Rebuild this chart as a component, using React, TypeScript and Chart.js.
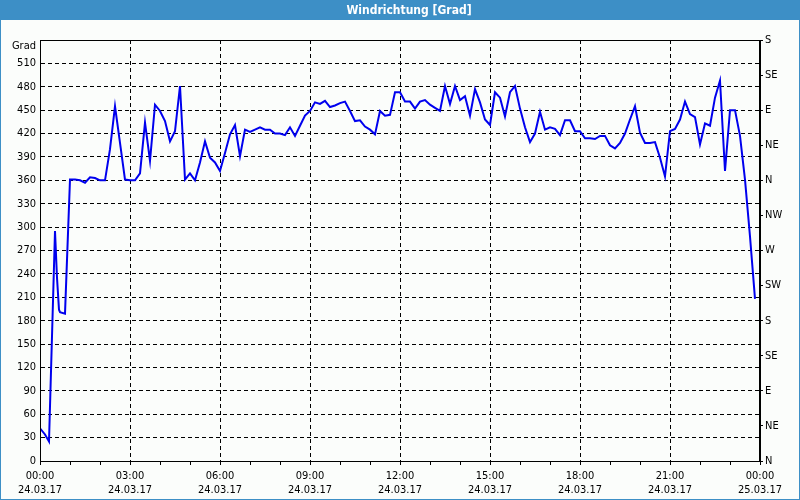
import { useEffect, useRef } from 'react';
import { Chart, registerables } from 'chart.js';

Chart.register(...registerables);

const TITLE = 'Windrichtung [Grad]';
const LEFT_UNIT = 'Grad';
const COMPASS = ['N', 'NE', 'E', 'SE', 'S', 'SW', 'W', 'NW', 'N', 'NE', 'E', 'SE', 'S'];
const HOUR_LABELS = ['00:00', '03:00', '06:00', '09:00', '12:00', '15:00', '18:00', '21:00', '00:00'];
const DATE_LABELS = ['24.03.17', '24.03.17', '24.03.17', '24.03.17', '24.03.17', '24.03.17', '24.03.17', '24.03.17', '25.03.17'];

// minutes since 24.03.17 00:00
const TIMES = [
  0, 10, 18, 30, 34, 38, 40, 50, 60, 70, 80, 90, 100, 110, 120, 130, 140, 150, 160, 170,
  180, 190, 200, 210, 220, 230, 240, 250, 260, 270, 280, 290, 300, 310, 320, 330, 340, 350, 360, 370,
  380, 390, 400, 410, 420, 430, 440, 450, 460, 470, 480, 490, 500, 510, 520, 530, 540, 550, 560, 570,
  580, 590, 600, 610, 620, 630, 640, 650, 660, 670, 680, 690, 700, 710, 720, 730, 740, 750, 760, 770,
  780, 790, 800, 810, 820, 830, 840, 850, 860, 870, 880, 890, 900, 910, 920, 930, 940, 950, 960, 970,
  980, 990, 1000, 1010, 1020, 1030, 1040, 1050, 1060, 1070, 1080, 1090, 1100, 1110, 1120, 1130, 1140, 1150, 1160, 1170,
  1180, 1190, 1200, 1210, 1220, 1230, 1240, 1250, 1260, 1270, 1280, 1290, 1300, 1310, 1320, 1330, 1340, 1350, 1360, 1370,
  1380, 1390, 1400, 1410, 1420, 1430,
];

// wind direction in degrees
const VALUES = [
  42, 34, 25, 295, 235, 194, 191, 189, 361, 361, 360, 357, 364, 363, 360, 360, 400, 455, 408, 361,
  360, 360, 369, 434, 385, 457, 449, 436, 410, 423, 481, 361, 369, 360, 383, 410, 389, 383, 372, 395,
  419, 431, 391, 425, 422, 425, 428, 425, 425, 420, 420, 418, 428, 417, 430, 443, 449, 460, 458, 462,
  454, 456, 459, 461, 449, 436, 437, 429, 425, 419, 449, 443, 444, 473, 473, 461, 461, 452, 461, 463,
  457, 453, 449, 481, 458, 481, 463, 468, 443, 477, 460, 438, 431, 473, 466, 442, 473, 481, 452, 428,
  409, 420, 448, 425, 428, 426, 418, 437, 437, 423, 423, 414, 414, 413, 417, 417, 405, 401, 408, 420,
  438, 455, 421, 408, 408, 409, 389, 365, 423, 426, 438, 461, 445, 441, 406, 433, 430, 466, 488, 372,
  450, 450, 417, 361, 288, 208,
];

const FONT_FAMILY = '"DejaVu Sans Condensed", "DejaVu Sans", sans-serif';
const BAR_BLUE = '#3d8fc6';

const framePlugin = {
  id: 'frame',
  beforeDraw(chart: any) {
    const { ctx, width, height } = chart;
    ctx.save();
    ctx.fillStyle = '#fbfdfb';
    ctx.fillRect(0, 0, width, height);
    ctx.fillStyle = BAR_BLUE;
    ctx.fillRect(0, 0, width, 20);
    ctx.strokeStyle = BAR_BLUE;
    ctx.lineWidth = 1;
    ctx.strokeRect(0.5, 0.5, width - 1, height - 1);
    ctx.fillStyle = '#ffffff';
    ctx.font = 'bold 12px ' + FONT_FAMILY;
    ctx.textAlign = 'center';
    ctx.textBaseline = 'middle';
    ctx.fillText(TITLE, 409, 10.5);
    ctx.restore();
  },
  afterDraw(chart: any) {
    const { ctx, chartArea } = chart;
    ctx.save();
    ctx.strokeStyle = '#000';
    ctx.lineWidth = 1;
    ctx.setLineDash([]);
    ctx.strokeRect(
      Math.round(chartArea.left) + 0.5,
      Math.round(chartArea.top) + 0.5,
      Math.round(chartArea.right - chartArea.left) - 1,
      Math.round(chartArea.bottom - chartArea.top)
    );
    // unit label above the left axis
    ctx.fillStyle = '#000';
    ctx.font = '11px ' + FONT_FAMILY;
    ctx.textAlign = 'right';
    ctx.textBaseline = 'middle';
    ctx.fillText(LEFT_UNIT, chartArea.left - 4, chartArea.top + 6);
    ctx.restore();
  },
};

export default function App() {
  const ref = useRef<HTMLCanvasElement | null>(null);

  useEffect(() => {
    const canvas = ref.current;
    if (!canvas) return;
    const font = { family: FONT_FAMILY, size: 11 };
    const chart = new Chart(canvas, {
      type: 'line',
      data: {
        datasets: [
          {
            data: TIMES.map((t, i) => ({ x: t, y: VALUES[i] })),
            borderColor: '#0000ee',
            borderWidth: 2,
            pointRadius: 0,
            tension: 0,
            fill: false,
          },
        ],
      },
      options: {
        animation: false,
        responsive: false,
        devicePixelRatio: 1,
        layout: { padding: { top: 40, left: 0, right: 0, bottom: 0 } },
        plugins: { legend: { display: false }, tooltip: { enabled: false }, title: { display: false } },
        scales: {
          x: {
            type: 'linear',
            min: 0,
            max: 1440,
            afterBuildTicks: (s: any) => {
              const t = [];
              for (let v = 0; v <= 1440; v += 60) t.push({ value: v });
              s.ticks = t;
            },
            afterFit: (s: any) => {
              s.height = 39;
            },
            ticks: {
              autoSkip: false,
              maxRotation: 0,
              padding: 4,
              color: '#000',
              font: { ...font, lineHeight: 1.27 },
              callback: (v: any) => {
                const n = Number(v);
                if (n % 180 !== 0) return '';
                const i = n / 180;
                return [HOUR_LABELS[i], DATE_LABELS[i]];
              },
            },
            grid: {
              color: (c: any) => (c.tick && c.tick.value % 180 === 0 ? '#000' : 'rgba(0,0,0,0)'),
              tickColor: '#000',
              tickLength: 4,
              lineWidth: 1,
            },
            border: { display: true, color: '#000', dash: [4, 3] },
          },
          y: {
            position: 'left',
            min: 0,
            max: 540,
            afterFit: (s: any) => {
              s.width = 40;
            },
            ticks: {
              stepSize: 30,
              padding: 4,
              color: '#000',
              font,
              callback: (v: any) => (Number(v) === 540 ? '' : String(v)),
            },
            grid: {
              color: (c: any) =>
                c.tick && (c.tick.value === 0 || c.tick.value === 540) ? 'rgba(0,0,0,0)' : '#000',
              drawTicks: false,
              lineWidth: 1,
            },
            border: { display: true, color: '#000', dash: [4, 3] },
          },
          y2: {
            position: 'right',
            min: 0,
            max: 540,
            afterFit: (s: any) => {
              s.width = 40;
            },
            ticks: {
              stepSize: 45,
              padding: 2,
              color: '#000',
              font,
              callback: (v: any) => COMPASS[Math.round(Number(v) / 45)] ?? '',
            },
            grid: {
              drawOnChartArea: false,
              tickLength: 3,
              tickColor: '#000',
            },
            border: { display: true, color: '#000' },
          },
        },
      },
      plugins: [framePlugin],
    });
    return () => chart.destroy();
  }, []);

  return (
    <div style={{ position: 'absolute', left: 0, top: 0, width: 800, height: 500 }}>
      <canvas ref={ref} width={800} height={500} style={{ width: 800, height: 500, display: 'block' }} />
    </div>
  );
}
